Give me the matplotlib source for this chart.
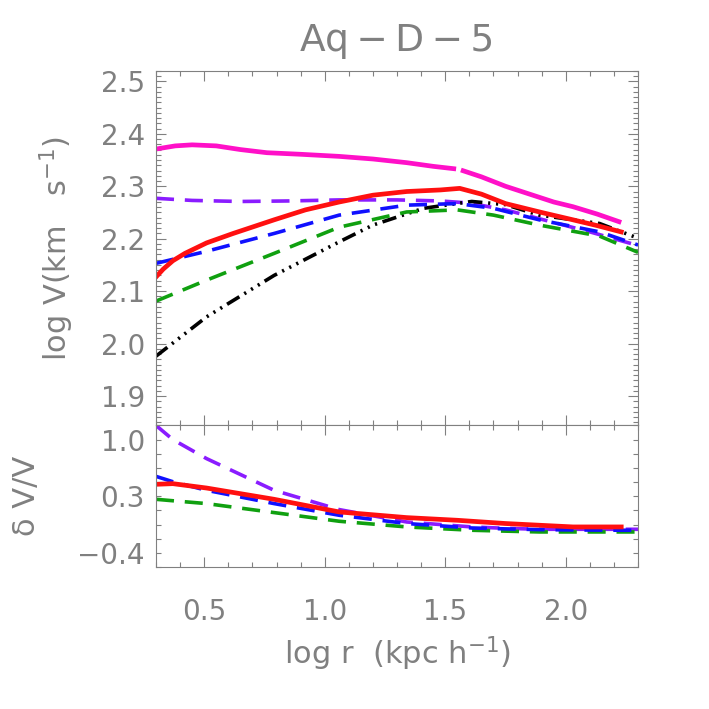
import numpy as np
import matplotlib
matplotlib.use("Agg")
import matplotlib.pyplot as plt
from matplotlib.ticker import MultipleLocator, FixedLocator

# top panel: log V against log r
x_mag_in = [0.30, 0.38, 0.45, 0.55, 0.65, 0.76, 0.90, 1.06, 1.20, 1.34, 1.45, 1.545]
v_mag_in = [2.371, 2.377, 2.379, 2.377, 2.370, 2.364, 2.361, 2.357, 2.352, 2.345, 2.338, 2.333]
x_mag_out = [1.565, 1.65, 1.75, 1.85, 1.95, 2.03, 2.13, 2.23]
v_mag_out = [2.331, 2.318, 2.300, 2.285, 2.270, 2.261, 2.247, 2.231]

x_red = [0.30, 0.33, 0.37, 0.42, 0.51, 0.62, 0.79, 0.92, 1.06, 1.20, 1.34, 1.48, 1.56, 1.65, 1.75, 1.90, 2.03, 2.13, 2.23]
v_red = [2.127, 2.142, 2.158, 2.172, 2.192, 2.210, 2.236, 2.255, 2.270, 2.283, 2.290, 2.293, 2.296, 2.285, 2.267, 2.250, 2.236, 2.225, 2.213]

x_blue = [0.30, 0.51, 0.79, 1.06, 1.34, 1.55, 1.70, 1.89, 2.14, 2.30]
v_blue = [2.153, 2.176, 2.210, 2.245, 2.264, 2.267, 2.258, 2.236, 2.213, 2.188]

x_green = [0.30, 0.51, 0.79, 1.06, 1.34, 1.55, 1.70, 1.89, 2.14, 2.30]
v_green = [2.081, 2.121, 2.172, 2.222, 2.251, 2.255, 2.245, 2.226, 2.205, 2.174]

x_black = [0.30, 0.51, 0.79, 1.06, 1.20, 1.41, 1.61, 1.75, 1.89, 2.14, 2.30]
v_black = [1.976, 2.051, 2.130, 2.194, 2.226, 2.258, 2.271, 2.265, 2.245, 2.229, 2.201]

x_purple = [0.30, 0.45, 0.65, 0.85, 1.06, 1.30, 1.48, 1.60, 1.75, 1.90, 2.10, 2.30]
v_purple = [2.277, 2.273, 2.271, 2.272, 2.274, 2.274, 2.272, 2.268, 2.255, 2.237, 2.213, 2.187]

# bottom panel: dV/V
xd = [0.30, 0.37, 0.51, 0.79, 1.06, 1.34, 1.61, 1.75, 1.89, 2.03, 2.23, 2.30]
d_purple = [1.175, 1.00, 0.765, 0.374, 0.136, -0.017, -0.078, -0.095, -0.107, -0.107, -0.107, -0.107]
d_blue = [0.546, 0.48, 0.374, 0.210, 0.066, -0.036, -0.091, -0.102, -0.111, -0.115, -0.119, -0.119]
d_green = [0.263, 0.245, 0.210, 0.099, -0.008, -0.078, -0.119, -0.130, -0.140, -0.140, -0.140, -0.140]
xd_red = [0.30, 0.37, 0.51, 0.79, 1.06, 1.34, 1.55, 1.75, 2.03, 2.23]
d_red = [0.448, 0.456, 0.402, 0.263, 0.107, 0.037, 0.004, -0.036, -0.078, -0.078]

grey = "#808080"
plt.rcParams["font.family"] = ["DejaVu Sans"]
plt.rcParams["mathtext.fontset"] = "dejavusans"

fig = plt.figure(figsize=(7.09, 7.09), dpi=100)
ax1 = fig.add_axes([0.22, 0.40, 0.68, 0.50])
ax2 = fig.add_axes([0.22, 0.20, 0.68, 0.20])

ax1.plot(x_mag_in, v_mag_in, color="#ff10c8", lw=3.4, solid_capstyle="butt")
ax1.plot(x_mag_out, v_mag_out, color="#ff10c8", lw=3.4, solid_capstyle="butt")
ax1.plot(x_purple, v_purple, color="#8a1cff", lw=2.6, dashes=(5, 3))
ax1.plot(x_black, v_black, color="black", lw=2.6, dashes=(4, 1.6, 0.6, 1.6, 0.6, 1.6, 0.6, 1.6))
ax1.plot(x_green, v_green, color="#10a010", lw=2.6, dashes=(5, 3))
ax1.plot(x_blue, v_blue, color="#1010ff", lw=2.6, dashes=(5, 3))
ax1.plot(x_red, v_red, color="#ff1010", lw=3.4)

ax2.plot(xd, d_purple, color="#8a1cff", lw=2.6, dashes=(5, 3))
ax2.plot(xd, d_green, color="#10a010", lw=2.6, dashes=(5, 3))
ax2.plot(xd, d_blue, color="#1010ff", lw=2.6, dashes=(5, 3))
ax2.plot(xd_red, d_red, color="#ff1010", lw=3.4)

for ax in (ax1, ax2):
    ax.set_xlim(0.3, 2.3)
    ax.xaxis.set_major_locator(MultipleLocator(0.5))
    ax.xaxis.set_minor_locator(MultipleLocator(0.1))
    ax.tick_params(which="both", direction="in", top=True, right=True,
                   color=grey, labelcolor=grey, labelsize=20, width=0.8)
    ax.tick_params(which="major", length=7)
    ax.tick_params(which="minor", length=3.5)
    for s in ax.spines.values():
        s.set_color(grey)
        s.set_linewidth(0.8)

ax1.set_ylim(1.844, 2.52)
ax1.yaxis.set_major_locator(MultipleLocator(0.1))
ax1.yaxis.set_minor_locator(MultipleLocator(0.01))
ax1.tick_params(axis="x", labelbottom=False)
ax1.tick_params(axis="y", pad=8)
ax1.set_title("Aq\u2009\u2212\u2009D\u2009\u2212\u20095", color=grey, fontsize=27, pad=14)
ax1.set_ylabel("log V(km   s$^{-1}$)", color=grey, fontsize=22, labelpad=18)

ax2.set_ylim(-0.575, 1.175)
ax2.yaxis.set_major_locator(FixedLocator([1.0, 0.3, -0.4]))
ax2.yaxis.set_minor_locator(FixedLocator([1.175 - 0.175 * i for i in range(11)]))
ax2.set_yticklabels(["1.0", "0.3", "\u22120.4"])
ax2.tick_params(axis="y", which="major", length=3.5, pad=8)
ax2.set_ylabel("\u03b4 V/V", color=grey, fontsize=22, labelpad=26)
ax2.set_xlabel("log r  (kpc h$^{-1}$)", color=grey, fontsize=22, labelpad=6)
ax2.tick_params(axis="x", pad=22)

fig.savefig("out.png", dpi=100)
